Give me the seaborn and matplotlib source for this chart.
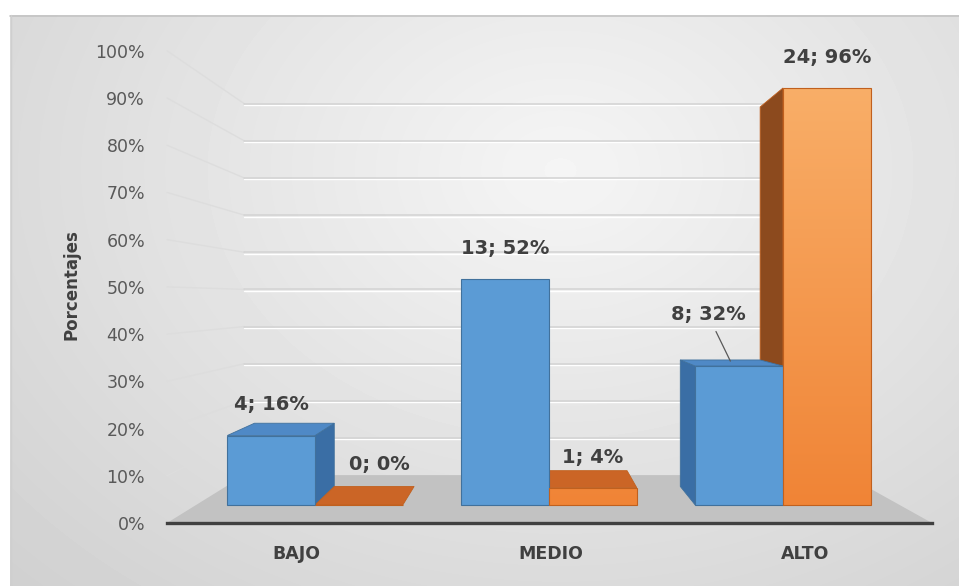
import numpy as np
import pandas as pd
import matplotlib
matplotlib.use("Agg")
import matplotlib.pyplot as plt
from matplotlib.patches import Polygon
from matplotlib.transforms import offset_copy
from matplotlib.colors import LinearSegmentedColormap
import seaborn as sns

# ---------------- data ----------------
categories = ["BAJO", "MEDIO", "ALTO"]
series_names = ["Serie 1", "Serie 2"]
counts_s1 = [4, 13, 8]
counts_s2 = [0, 1, 24]
percent_s1 = [16, 52, 32]
percent_s2 = [0, 4, 96]
tick_values = [0, 10, 20, 30, 40, 50, 60, 70, 80, 90, 100]

df = pd.DataFrame({
    "nivel": categories * 2,
    "serie": [series_names[0]] * len(categories) + [series_names[1]] * len(categories),
    "n": counts_s1 + counts_s2,
    "pct": percent_s1 + percent_s2,
})

# ---------------- style ----------------
sns.set_theme(style="white")
plt.rcParams["font.family"] = ["DejaVu Sans"]

FRONT = {"Serie 1": "#5B9BD5", "Serie 2": "#F39A4E"}
TOP = {"Serie 1": "#4F89C6", "Serie 2": "#CB6526"}
SIDE = {"Serie 1": "#3A6EA5", "Serie 2": "#8C4A1E"}
EDGE = {"Serie 1": "#41719C", "Serie 2": "#C0601E"}
ORANGE_RAMP = LinearSegmentedColormap.from_list("naranja", ["#F08436", "#F9B06A"])
TEXT = "#404040"

# pseudo-3D perspective, in data units of the bar plane
VP = (0.915, 47.5)      # vanishing point
T_FRONT = -0.087        # front edge of the floor (value axis)
T_BAR = 0.09            # depth of each bar
T_WALL = 0.145          # back wall
FLOOR_X = (-0.5087, 2.499)


def proj(x, y, t):
    return x + t * (VP[0] - x), y + t * (VP[1] - y)


# label offsets in points (dx, dy) from the top centre of each bar
LABEL_OFFSET = {("BAJO", "Serie 2"): (15, 29), ("ALTO", "Serie 1"): (-17, 35)}
DEFAULT_OFFSET = (0, 22)

W, H = 959, 586
fig = plt.figure(figsize=(W / 100, H / 100), dpi=100)

# ---------------- background panel ----------------
bg = fig.add_axes([0, 0, 1, 1], zorder=0)
yy, xx = np.mgrid[15:H, 10:W]
dist = np.hypot((xx - 560) / 620, (yy - 170) / 470)
shade = np.clip(0.96 - 0.115 * dist, 0, 1)
bg.imshow(shade, cmap="gray", vmin=0, vmax=1, extent=(10, W, H, 15),
          aspect="auto", interpolation="bilinear")
bg.plot([10, W], [15.5, 15.5], color="#C4C4C4", lw=1.2)
bg.plot([10.5, 10.5], [15, H], color="#CFCFCF", lw=1)
bg.set_xlim(0, W)
bg.set_ylim(H, 0)
bg.set_axis_off()

# ---------------- plot axes ----------------
left_px, right_px, bottom_px, top_px = 152, 945, 523, 20
ax = fig.add_axes([left_px / W, 1 - bottom_px / H,
                   (right_px - left_px) / W, (bottom_px - top_px) / H], zorder=1)
ax.patch.set_alpha(0)

sns.barplot(data=df, x="nivel", y="pct", hue="serie", order=categories,
            hue_order=series_names, palette=FRONT, width=0.75, saturation=1,
            errorbar=None, legend=False, ax=ax, zorder=4, linewidth=0.8)

# floor
floor = [proj(FLOOR_X[0], 0, T_FRONT), proj(FLOOR_X[1], 0, T_FRONT),
         proj(FLOOR_X[1], 0, T_WALL), proj(FLOOR_X[0], 0, T_WALL)]
ax.add_patch(Polygon(floor, closed=True, fc="#C2C2C2", ec="none", zorder=1))

# side-wall and back-wall gridlines
shift = offset_copy(ax.transData, fig=fig, y=-1.4, units="dots")
for v in tick_values[1:]:
    a = proj(FLOOR_X[0], v, T_FRONT)
    b = proj(FLOOR_X[0], v, T_WALL)
    c = proj(FLOOR_X[1], v, T_WALL)
    ax.plot([a[0], b[0]], [a[1], b[1]], color="#DDDDDD", lw=1.0, zorder=1.5)
    ax.plot([b[0], c[0]], [b[1], c[1]], color="white", lw=1.0, zorder=1.4, transform=shift)
    ax.plot([b[0], c[0]], [b[1], c[1]], color="#D3D3D3", lw=1.1, zorder=1.5)

# faces, gradients and value labels for each bar
for container, sname in zip(ax.containers, series_names):
    counts = counts_s1 if sname == series_names[0] else counts_s2
    pcts = percent_s1 if sname == series_names[0] else percent_s2
    for cat, rect, n, p in zip(categories, container, counts, pcts):
        xl = rect.get_x()
        xr = xl + rect.get_width()
        h = rect.get_height()
        rect.set_edgecolor(EDGE[sname])

        # side face, seen only when the bar lies fully to one side of the vanishing point
        xs = xr if xr < VP[0] else (xl if xl > VP[0] else None)
        if xs is not None and h > 0:
            side = [proj(xs, 0, 0), proj(xs, h, 0), proj(xs, h, T_BAR), proj(xs, 0, T_BAR)]
            ax.add_patch(Polygon(side, closed=True, fc=SIDE[sname], ec=EDGE[sname],
                                 lw=0.6, zorder=3))
        # top face, seen only below eye level
        if h < VP[1]:
            top = [proj(xl, h, 0), proj(xr, h, 0), proj(xr, h, T_BAR), proj(xl, h, T_BAR)]
            ax.add_patch(Polygon(top, closed=True, fc=TOP[sname], ec=EDGE[sname],
                                 lw=0.6, zorder=3.5))

        if sname == series_names[1] and h > 0:
            ramp = np.linspace(0, h / 100, 200)[::-1].reshape(-1, 1)
            im = ax.imshow(ramp, cmap=ORANGE_RAMP, vmin=0, vmax=1, aspect="auto",
                           extent=(xl, xr, 0, h), zorder=4.05, interpolation="bilinear")
            im.set_clip_path(rect)
            rect.set_facecolor("none")
            rect.set_zorder(4.2)

        dx, dy = LABEL_OFFSET.get((cat, sname), DEFAULT_OFFSET)
        kw = {}
        if (cat, sname) == ("ALTO", "Serie 1"):
            kw["arrowprops"] = dict(arrowstyle="-", color="#595959", lw=0.9,
                                    shrinkA=3, shrinkB=2)
            xy = proj((xl + xr) / 2, h, T_BAR * 0.4)
        else:
            xy = ((xl + xr) / 2, h)
        ax.annotate(f"{n}; {p}%", xy=xy, xytext=(dx, dy), textcoords="offset points",
                    ha="center", va="center", fontsize=14, fontweight="bold",
                    color=TEXT, zorder=6, **kw)

# axis limits: 234 px per category, 4.344 px per percentage point
ax.set_xlim((left_px - 315) / 234, (right_px - 315) / 234)
ax.set_ylim(proj(0, 0, T_FRONT)[1], (505 - top_px) / 4.344)

ax.set_yticks([proj(FLOOR_X[0], v, T_FRONT)[1] for v in tick_values],
              labels=[f"{v}%" for v in tick_values])
ax.set_xticks([proj(i, 0, T_FRONT)[0] for i in range(len(categories))], labels=categories)
ax.tick_params(axis="y", length=0, pad=5, labelsize=12.5, labelcolor="#595959")
ax.tick_params(axis="x", length=0, pad=16, labelsize=12.5, labelcolor=TEXT)
for lbl in ax.get_xticklabels():
    lbl.set_fontweight("bold")

ax.set_xlabel("")
ax.set_ylabel("Porcentajes", fontsize=12, fontweight="bold", color=TEXT)
ax.yaxis.set_label_coords((72 - left_px) / (right_px - left_px),
                          (bottom_px - 285) / (bottom_px - top_px))
ax.yaxis.label.set_va("center")

for s in ["top", "right", "left"]:
    ax.spines[s].set_visible(False)
ax.spines["bottom"].set_bounds(proj(FLOOR_X[0], 0, T_FRONT)[0], proj(FLOOR_X[1], 0, T_FRONT)[0])
ax.spines["bottom"].set_color("#404040")
ax.spines["bottom"].set_linewidth(2.4)
ax.grid(False)

fig.savefig("out.png", dpi=100)
